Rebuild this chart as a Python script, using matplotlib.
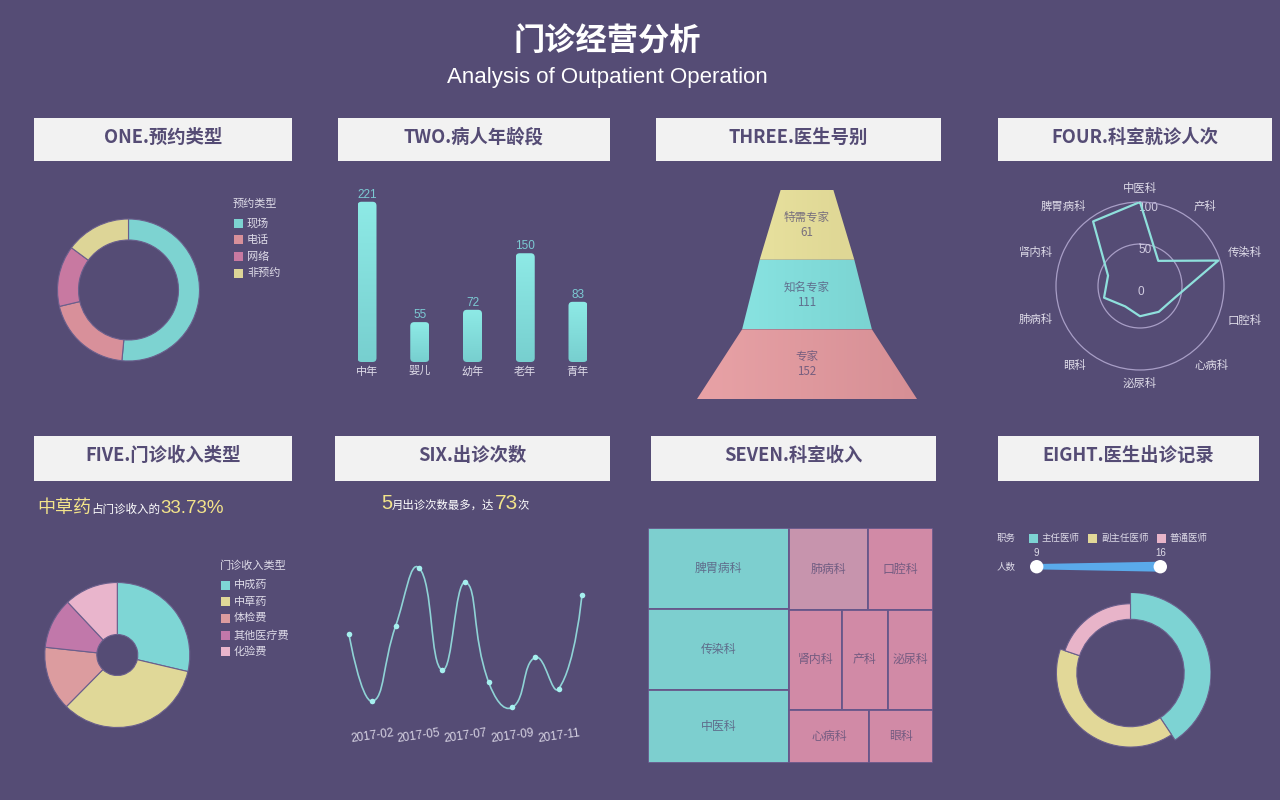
import numpy as np
import matplotlib
matplotlib.use('Agg')
import matplotlib.pyplot as plt
from matplotlib.colors import LinearSegmentedColormap
from matplotlib.patches import Rectangle, Polygon, FancyBboxPatch, Circle, Wedge, PathPatch
from matplotlib.path import Path

plt.rcParams['font.family'] = ['Noto Sans CJK SC', 'DejaVu Sans']

W, H = 1280, 800
BG = '#554c75'
PANEL = '#f2f2f2'
LIGHT = '#dedbe8'
YELLOW = '#f3e48a'
LATIN = ['Liberation Sans', 'Noto Sans CJK SC', 'DejaVu Sans']

# ---- data ----
booking_types = ['现场', '电话', '网络', '非预约']
booking_share = [52, 20, 14, 15]
booking_colors = ['#7dd3d1', '#d8909a', '#c879a1', '#ddd597']

age_groups = ['中年', '婴儿', '幼年', '老年', '青年']
age_counts = [221, 55, 72, 150, 83]

doctor_grades = ['专家', '知名专家', '特需专家']   # bottom to top
grade_counts = [152, 111, 61]
funnel_widths = [1.0, 0.59, 0.43, 0.24]          # edge widths, bottom to top
funnel_colors = [('#e8a2a6', '#d68f95'), ('#8de8e6', '#76cfcd'), ('#ede7a3', '#d9d08f')]

radar_depts = ['中医科', '产科', '传染科', '口腔科', '心病科',
               '泌尿科', '眼科', '肺病科', '肾内科', '脾胃病科']
radar_visits = [100, 37, 98, 44, 38, 36, 30, 45, 40, 95]

income_types = ['中成药', '中草药', '体检费', '其他医疗费', '化验费']
income_share = [28.67, 33.73, 14.3, 11.3, 12.0]
income_colors = ['#7ed6d5', '#e0d898', '#dc9c9f', '#c178aa', '#e9b5cc']

months = ['2017-01', '2017-02', '2017-03', '2017-05', '2017-06', '2017-07',
          '2017-08', '2017-09', '2017-10', '2017-11', '2017-12']
monthly_visits = [41, 9, 45, 73, 24, 66, 18, 6, 30, 15, 60]

tree_depts = ['脾胃病科', '传染科', '中医科', '肺病科', '口腔科',
              '肾内科', '产科', '泌尿科', '心病科', '眼科']
tree_income = [114.6, 114.2, 103.7, 64.8, 53.3, 52.5, 46.2, 44.9, 42.8, 34.0]
tree_colors = ['#7dcfcf', '#7dcfcf', '#7dcfcf', '#c794ad', '#d18aa6',
               '#d18aa6', '#d18aa6', '#d18aa6', '#d18aa6', '#d18aa6']

doctor_titles = ['主任医师', '副主任医师', '普通医师']
title_counts = [37, 36, 18]
title_colors = ['#7dd3d3', '#e2d898', '#e8b4c9']
rose_radius = [1.0, 0.92, 0.86]
title_range = [9, 16]


fig = plt.figure(figsize=(W / 100, H / 100), dpi=100, facecolor=BG)
# overlay in pixel units for headers, legends and decorations
ov = fig.add_axes([0, 0, 1, 1], zorder=0)
ov.set_xlim(0, W)
ov.set_ylim(H, 0)
ov.axis('off')


def px_axes(x0, y0, x1, y1, **kw):
    ax = fig.add_axes([x0 / W, 1 - y1 / H, (x1 - x0) / W, (y1 - y0) / H], zorder=1, **kw)
    ax.set_facecolor('none')
    return ax


def legend(x, y, title, labels, colors, size=8):
    ov.text(x - 1, y, title, fontsize=size, color=LIGHT, ha='left', va='center')
    for i, (lab, col) in enumerate(zip(labels, colors)):
        yy = y + 19 + 16.7 * i
        ov.add_patch(Rectangle((x, yy - 4.5), 9, 9, facecolor=col, edgecolor='none'))
        ov.text(x + 13, yy, lab, fontsize=size, color=LIGHT, ha='left', va='center')


def rich_text(x, y, parts):
    renderer = fig.canvas.get_renderer()
    for s, size, color, fam in parts:
        t = ov.text(x, y, s, fontsize=size, color=color, ha='left', va='baseline', family=fam)
        x += t.get_window_extent(renderer).width


# ---- titles and panel headers ----
ov.text(607, 42, '门诊经营分析', fontsize=22.5, fontweight='bold', color='white', ha='center', va='center')
ov.text(607, 77, 'Analysis of Outpatient Operation', fontsize=16, color='white',
        ha='center', va='center', family=LATIN)

headers = [('ONE.预约类型', 34, 118, 292, 161), ('TWO.病人年龄段', 338, 118, 610, 161),
           ('THREE.医生号别', 656, 118, 941, 161), ('FOUR.科室就诊人次', 998, 118, 1272, 161),
           ('FIVE.门诊收入类型', 34, 436, 292, 481), ('SIX.出诊次数', 335, 436, 610, 481),
           ('SEVEN.科室收入', 651, 436, 936, 481), ('EIGHT.医生出诊记录', 998, 436, 1259, 481)]
for text, x0, y0, x1, y1 in headers:
    ov.add_patch(Rectangle((x0, y0), x1 - x0, y1 - y0, facecolor=PANEL, edgecolor='none'))
    ov.text((x0 + x1) / 2, y0 + 19.5, text, fontsize=13.2, fontweight='bold', color=BG,
            ha='center', va='center')

# ---- ONE: booking type donut ----
ax1 = px_axes(57.5, 219, 199.5, 361)
ax1.pie(booking_share, colors=booking_colors, startangle=90, counterclock=False,
        wedgeprops=dict(width=21 / 71, edgecolor='#6a5f8c', linewidth=0.8))
ax1.set_xlim(-1, 1)
ax1.set_ylim(-1, 1)
legend(234, 204, '预约类型', booking_types, booking_colors)

# ---- TWO: age group bars ----
ax2 = px_axes(340, 180, 605, 362)
xb = np.arange(len(age_groups))
bars = ax2.bar(xb, age_counts, width=0.36, color='none')
aspect = (265 / 5.024) / (182 / 251)
bar_cmap = LinearSegmentedColormap.from_list('bar', ['#77cfcf', '#8eeae6'])
grad = np.linspace(0, 1, 256).reshape(-1, 1)
for b, v in zip(bars, age_counts):
    patch = FancyBboxPatch((b.get_x(), 0), b.get_width(), b.get_height(),
                           boxstyle='round,pad=0,rounding_size=0.075', mutation_aspect=aspect,
                           facecolor='none', edgecolor='none')
    ax2.add_patch(patch)
    im = ax2.imshow(grad, extent=(b.get_x(), b.get_x() + b.get_width(), 0, b.get_height()),
                    origin='lower', cmap=bar_cmap, aspect='auto')
    im.set_clip_path(patch)
    ax2.annotate(str(v), (b.get_x() + b.get_width() / 2, v), xytext=(0, 1), textcoords='offset pixels',
                 ha='center', va='bottom', fontsize=8.5, color='#7ccad3', family=LATIN)
ax2.set_xlim(-0.512, 4.512)
ax2.set_ylim(0, 251)
ax2.set_xticks(xb, age_groups)
ax2.tick_params(axis='x', length=0, pad=3, labelsize=8, labelcolor=LIGHT)
ax2.set_yticks([])
for s in ax2.spines.values():
    s.set_visible(False)

# ---- THREE: doctor grade funnel ----
ax3 = px_axes(697, 190, 917, 399)
hgrad = np.linspace(0, 1, 256).reshape(1, -1)
for i, (name, val) in enumerate(zip(doctor_grades, grade_counts)):
    wb, wt = funnel_widths[i], funnel_widths[i + 1]
    poly = Polygon([(-wb / 2, i), (wb / 2, i), (wt / 2, i + 1), (-wt / 2, i + 1)],
                   closed=True, facecolor='none', edgecolor='none')
    ax3.add_patch(poly)
    cm = LinearSegmentedColormap.from_list('f%d' % i, list(funnel_colors[i]))
    im = ax3.imshow(hgrad, extent=(-0.5, 0.5, i, i + 1), cmap=cm, aspect='auto')
    im.set_clip_path(poly)
    ax3.text(0, i + 0.5, f'{name}\n{val}', ha='center', va='center', fontsize=8.3,
             color=BG, alpha=0.75, linespacing=1.2)
ax3.set_xlim(-0.5, 0.5)
ax3.set_ylim(0, 3)
ax3.axis('off')

# ---- FOUR: department radar ----
ax4 = px_axes(1056, 202, 1224, 370, projection='polar')
ax4.set_theta_zero_location('N')
ax4.set_theta_direction(-1)
ang = np.arange(len(radar_depts)) * 2 * np.pi / len(radar_depts)
ax4.plot(np.append(ang, ang[0]), np.append(radar_visits, radar_visits[0]),
         color='#8fe0dc', lw=1.6, zorder=3)
ax4.set_ylim(0, 100)
ax4.set_xticks([])
ax4.set_yticks([50])
ax4.set_yticklabels([])
ax4.yaxis.grid(True, color='#a89ec6', lw=0.9)
ax4.xaxis.grid(False)
ax4.spines['polar'].set_color('#a89ec6')
ax4.spines['polar'].set_linewidth(0.9)
for a, lab in zip(ang, radar_depts):
    sa, ca = np.sin(a), np.cos(a)
    ha = 'left' if sa > 0.1 else ('right' if sa < -0.1 else 'center')
    va = 'bottom' if ca > 0.1 else ('top' if ca < -0.1 else 'center')
    ax4.annotate(lab, (a, 100), xytext=(8 * sa, 8 * ca), textcoords='offset pixels',
                 ha=ha, va=va, fontsize=8.2, color=LIGHT, annotation_clip=False)
for r in (0, 50, 100):
    ax4.annotate(str(r), (0, r), xytext=(-2, -6), textcoords='offset pixels', ha='left',
                 va='center', fontsize=8.5, color='#d0cbe0', family=LATIN, zorder=2,
                 annotation_clip=False)

# ---- FIVE: income type pie ----
top = int(np.argmax(income_share))
rich_text(37, 513, [(income_types[top], 13, YELLOW, None),
                    ('占门诊收入的', 8.3, 'white', None),
                    (f'{income_share[top]:.2f}%', 13.5, YELLOW, LATIN)])
ax5 = px_axes(44.8, 582.5, 189.8, 727.5)
ax5.pie(income_share, colors=income_colors, startangle=90, counterclock=False,
        wedgeprops=dict(width=1 - 20.5 / 72.5, edgecolor='#6a5f8c', linewidth=0.8))
ax5.set_xlim(-1, 1)
ax5.set_ylim(-1, 1)
legend(221, 566, '门诊收入类型', income_types, income_colors)

# ---- SIX: monthly visits smooth line ----
peak = int(np.argmax(monthly_visits))
rich_text(381, 509, [(str(int(months[peak][-2:])), 14.5, YELLOW, LATIN),
                     ('月出诊次数最多，达', 8.2, 'white', None),
                     (str(monthly_visits[peak]), 15, YELLOW, LATIN),
                     ('次', 8.2, 'white', None)])
ax6 = px_axes(340, 540, 595, 720)
xm = np.arange(len(months))
ax6.set_xlim(-0.386, 10.56)
ax6.set_ylim(0, 86.3)
sx = 255 / (10.56 + 0.386)
sy = 180 / 86.3
pts = np.column_stack([xm * sx, np.array(monthly_visits) * sy])
verts, codes = [pts[0]], [Path.MOVETO]
cp0 = pts[0]
for i in range(1, len(pts)):
    p = pts[i]
    if i < len(pts) - 1:
        v = pts[i + 1] - pts[i - 1]
        d0 = np.linalg.norm(p - pts[i - 1])
        d1 = np.linalg.norm(pts[i + 1] - p)
        cp1 = p - v * 0.5 * d0 / (d0 + d1)
        nxt = p + v * 0.5 * d1 / (d0 + d1)
    else:
        cp1, nxt = p, None
    verts += [cp0, cp1, p]
    codes += [Path.CURVE4] * 3
    cp0 = nxt
verts = np.array(verts) / [sx, sy]
ax6.add_patch(PathPatch(Path(verts, codes), facecolor='none', edgecolor='#8fd3d6', lw=1.2))
ax6.plot(xm, monthly_visits, 'o', ms=4, color='#a6f0ef', mec='none', clip_on=False)
ax6.set_xticks(xm[1::2], months[1::2], rotation=8)
ax6.tick_params(axis='x', length=0, pad=5, labelsize=8.5, labelcolor='#d8d4e4')
for lab in ax6.get_xticklabels():
    lab.set_family(LATIN)
ax6.set_yticks([])
for s in ax6.spines.values():
    s.set_visible(False)

# ---- SEVEN: department income treemap (squarify, golden ratio like echarts) ----
GOLDEN = 0.5 * (1 + 5 ** 0.5)


def worst(row, fixed):
    s = sum(row)
    f = fixed * fixed * GOLDEN
    return max(f * max(row) / s ** 2, s ** 2 / (f * min(row)))


def place_row(row, fixed, rect, flush):
    horizontal = fixed == rect[2]
    room = rect[3] if horizontal else rect[2]
    other = sum(row) / fixed
    if flush or other > room:
        other = room
    last = rect[0] if horizontal else rect[1]
    end = rect[0] + rect[2] if horizontal else rect[1] + rect[3]
    out = []
    for j, a in enumerate(row):
        step = a / other
        if j == len(row) - 1 or end - last < step:
            step = end - last
        out.append((last, rect[1], step, other) if horizontal else (rect[0], last, other, step))
        last += step
    if horizontal:
        rect[1] += other
        rect[3] -= other
    else:
        rect[0] += other
        rect[2] -= other
    return out


def squarify(values, w, h):
    total = sum(values)
    areas = [v / total * w * h for v in values]
    rect = [0.0, 0.0, w, h]
    cells, row, best, fixed, i = [], [], np.inf, min(w, h), 0
    while i < len(areas):
        row.append(areas[i])
        score = worst(row, fixed)
        if score <= best:
            best = score
            i += 1
        else:
            row.pop()
            cells += place_row(row, fixed, rect, False)
            fixed = min(rect[2], rect[3])
            row, best = [], np.inf
    if row:
        cells += place_row(row, fixed, rect, True)
    return cells


ax7 = px_axes(648, 528, 933, 763)
tw, th = 285 / 235, 1.0
order = np.argsort(tree_income)[::-1]
cells = squarify([tree_income[k] for k in order], tw, th)
for k, (cx, cy, cw, ch) in zip(order, cells):
    ax7.add_patch(Rectangle((cx, cy), cw, ch, facecolor=tree_colors[k], edgecolor='#67578a', lw=1.3))
    ax7.text(cx + cw / 2, cy + ch / 2, tree_depts[k], ha='center', va='center', fontsize=8.6,
             color=BG, alpha=0.75)
ax7.set_xlim(0, tw)
ax7.set_ylim(th, 0)
ax7.axis('off')

# ---- EIGHT: doctor title rose donut ----
ov.text(997, 538, '职务', fontsize=6.8, color=LIGHT, ha='left', va='center')
lx = 1029
renderer = fig.canvas.get_renderer()
for lab, col in zip(doctor_titles, title_colors):
    ov.add_patch(Rectangle((lx, 533.5), 9, 9, facecolor=col, edgecolor='none'))
    t = ov.text(lx + 13, 538, lab, fontsize=6.8, color=LIGHT, ha='left', va='center')
    lx += 13 + t.get_window_extent(renderer).width + 8
ov.text(997, 567, '人数', fontsize=6.8, color=LIGHT, ha='left', va='center')
ov.add_patch(Polygon([(1036.7, 564.0), (1160.3, 561.7), (1160.3, 571.7), (1036.7, 569.4)],
                     facecolor='#5aaaea', edgecolor='none'))
for hx, val in zip((1036.7, 1160.3), title_range):
    ov.add_patch(Circle((hx, 566.7), 6.7, facecolor='white', edgecolor='none', zorder=3))
    ov.text(hx, 553, str(val), fontsize=7, color=LIGHT, ha='center', va='center', family=LATIN)

ax8 = px_axes(1050, 592.5, 1211, 753.5)
frac = np.array(title_counts) / sum(title_counts)
start = 0.0
for f, r, c in zip(frac, rose_radius, title_colors):
    ax8.add_patch(Wedge((0, 0), r, 90 - (start + f) * 360, 90 - start * 360,
                        width=r - 53.7 / 80.5, facecolor=c, edgecolor='#6a5f8c', lw=0.8))
    start += f
ax8.set_xlim(-1, 1)
ax8.set_ylim(-1, 1)
ax8.set_aspect('equal')
ax8.axis('off')

fig.savefig('out.png', dpi=100, facecolor=BG)
